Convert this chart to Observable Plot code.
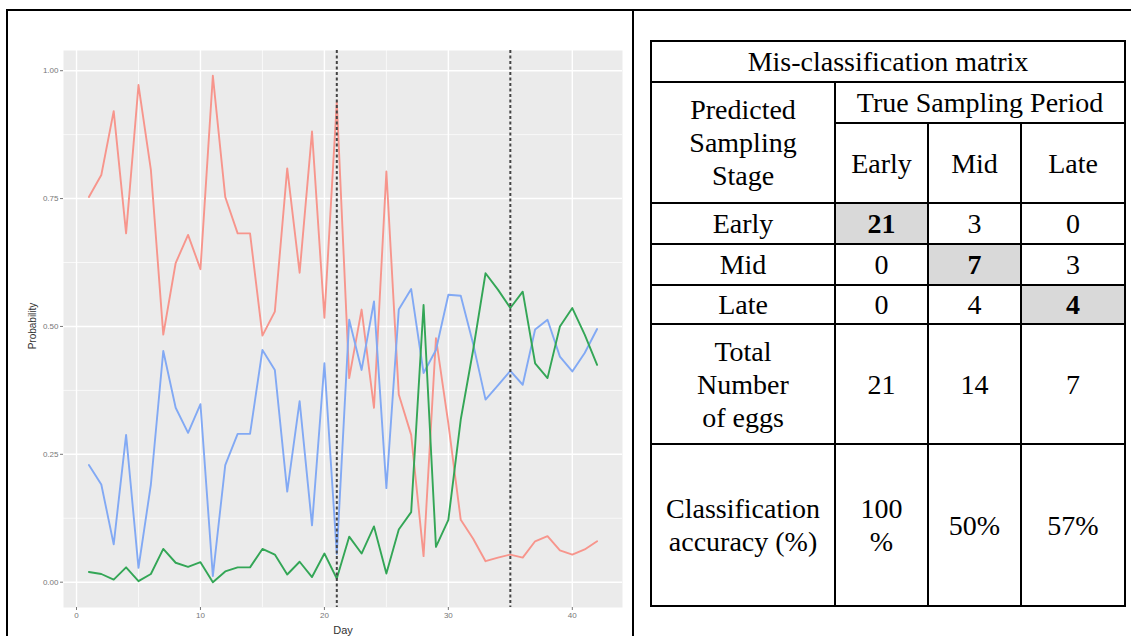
<!DOCTYPE html>
<html>
<head>
<meta charset="utf-8">
<script src="https://cdn.jsdelivr.net/npm/d3@7"></script>
<script src="https://cdn.jsdelivr.net/npm/@observablehq/plot@0.6"></script>
<style>
  html, body { margin: 0; padding: 0; background: #fff; }
  #fig { position: relative; width: 1131px; height: 636px; overflow: hidden; background: #fff; }
  #chart { position: absolute; left: 0; top: 0; }
  .bline { position: absolute; background: #000; }
  .axtitle { position: absolute; font-family: "Liberation Sans", Arial, sans-serif; color: #333; white-space: nowrap; }
  #tbl { position: absolute; left: 650px; top: 40px; width: 474px; height: 565px;
         border-collapse: collapse; table-layout: fixed;
         font-family: "Liberation Serif", "Times New Roman", serif; font-size: 28px; color: #000; }
  #tbl td { border: 2px solid #000; text-align: center; vertical-align: middle; padding: 0;
            line-height: 33px; white-space: pre-line; }
  #tbl td.diag { background: #D9D9D9; font-weight: bold; }
</style>
</head>
<body>
<div id="fig">
  <div id="chart"></div>
  <div class="axtitle" id="ylab" style="left:32px; top:326px; font-size:10px; transform: translate(-50%,-50%) rotate(-90deg);">Probability</div>
  <div class="axtitle" id="xlab" style="left:343px; top:630px; font-size:11px; transform: translate(-50%,-50%);">Day</div>
  <table id="tbl"></table>
  <div class="bline" style="left:7px; top:9px; width:1124px; height:2px;"></div>
  <div class="bline" style="left:6px; top:9px; width:2px; height:627px;"></div>
  <div class="bline" style="left:632px; top:9px; width:2px; height:627px;"></div>
</div>
<script>
// ---------- line chart data ----------
const days  = [1,2,3,4,5,6,7,8,9,10,11,12,13,14,15,16,17,18,19,20,21,22,23,24,25,26,27,28,29,30,31,32,33,34,35,36,37,38,39,40,41,42];
const early = [0.753,0.796,0.921,0.682,0.972,0.806,0.484,0.624,0.679,0.612,0.990,0.753,0.682,0.682,0.482,0.529,0.809,0.605,0.881,0.517,0.939,0.399,0.533,0.341,0.803,0.367,0.288,0.051,0.477,0.310,0.122,0.085,0.041,0.048,0.054,0.048,0.080,0.090,0.062,0.054,0.064,0.080];
const mid   = [0.229,0.191,0.074,0.288,0.028,0.191,0.452,0.341,0.292,0.348,0.012,0.229,0.290,0.290,0.454,0.415,0.177,0.354,0.111,0.428,0.055,0.513,0.415,0.549,0.184,0.533,0.573,0.409,0.454,0.562,0.560,0.466,0.357,0.385,0.413,0.386,0.494,0.513,0.441,0.412,0.448,0.495];
const late  = [0.020,0.016,0.005,0.029,0.002,0.016,0.065,0.038,0.030,0.039,0.000,0.021,0.029,0.029,0.065,0.054,0.015,0.040,0.010,0.056,0.007,0.089,0.056,0.109,0.017,0.103,0.137,0.542,0.069,0.122,0.318,0.454,0.604,0.572,0.536,0.568,0.428,0.399,0.500,0.536,0.484,0.425];
const stageNames  = ["Early", "Mid", "Late"];
const stageColors = ["#F7958C", "#82A9F4", "#33A656"];
const xTicks = [0, 10, 20, 30, 40];
const xMinor = [5, 15, 25, 35];
const yTicks = [0, 0.25, 0.5, 0.75, 1];
const yMinor = [0.125, 0.375, 0.625, 0.875];
const cutoffDays = [21, 35];

// ---------- table data ----------
const tableTitle = "Mis-classification matrix";
const rowHeader = "Predicted\nSampling\nStage";
const colGroupHeader = "True Sampling Period";
const periods = ["Early", "Mid", "Late"];
const matrixEarly = [21, 3, 0];
const matrixMid   = [0, 7, 3];
const matrixLate  = [0, 4, 4];
const totalLabel = "Total\nNumber\nof eggs";
const totals = [21, 14, 7];
const accuracyLabel = "Classification\naccuracy (%)";
const accuracy = ["100\n%", "50%", "57%"];

// build line rows
const series = [early, mid, late];
const rows = [];
series.forEach((vals, s) => vals.forEach((v, i) => rows.push({day: days[i], p: v, stage: stageNames[s]})));

const chart = Plot.plot({
  width: 633,
  height: 636,
  marginLeft: 63,
  marginRight: 11,
  marginTop: 50,
  marginBottom: 29,
  x: {domain: [-1.05, 44.05]},
  y: {domain: [-0.0495, 1.0395]},
  color: {domain: stageNames, range: stageColors},
  style: {background: "transparent", fontFamily: "Liberation Sans, Arial, sans-serif", overflow: "visible"},
  marks: [
    Plot.frame({fill: "#EBEBEB", stroke: null}),
    Plot.ruleX(xMinor, {stroke: "#fff", strokeWidth: 0.7}),
    Plot.ruleY(yMinor, {stroke: "#fff", strokeWidth: 0.7}),
    Plot.ruleX(xTicks, {stroke: "#fff", strokeWidth: 1.4}),
    Plot.ruleY(yTicks, {stroke: "#fff", strokeWidth: 1.4}),
    Plot.axisX({ticks: xTicks, tickSize: 3, tickPadding: 2, fontSize: 8, label: null, color: "#777"}),
    Plot.axisY({ticks: yTicks, tickFormat: d => d.toFixed(2), tickSize: 3, tickPadding: 2, fontSize: 8, label: null, color: "#777"}),
    Plot.lineY(rows, {x: "day", y: "p", z: "stage", stroke: "stage", strokeWidth: 1.9}),
    Plot.ruleX(cutoffDays, {stroke: "#444", strokeWidth: 2, strokeDasharray: "3,2.5"})
  ]
});
document.getElementById("chart").appendChild(chart);

// build table
const tbl = document.getElementById("tbl");
const colW = [184, 93, 93, 104];
const cg = document.createElement("colgroup");
colW.forEach(w => { const c = document.createElement("col"); c.style.width = w + "px"; cg.appendChild(c); });
tbl.appendChild(cg);
function tr(h) { const r = document.createElement("tr"); r.style.height = h + "px"; tbl.appendChild(r); return r; }
function td(r, text, opts = {}) {
  const c = document.createElement("td");
  c.textContent = text;
  if (opts.colspan) c.colSpan = opts.colspan;
  if (opts.rowspan) c.rowSpan = opts.rowspan;
  if (opts.cls) c.className = opts.cls;
  r.appendChild(c);
  return c;
}
let r = tr(41); td(r, tableTitle, {colspan: 4});
r = tr(41); td(r, rowHeader, {rowspan: 2}); td(r, colGroupHeader, {colspan: 3});
r = tr(80); periods.forEach(p => td(r, p));
[matrixEarly, matrixMid, matrixLate].forEach((vals, i) => {
  const rr = tr(i === 2 ? 39 : 41);
  td(rr, periods[i]);
  vals.forEach((v, j) => td(rr, String(v), {cls: i === j ? "diag" : ""}));
});
r = tr(120); td(r, totalLabel); totals.forEach(v => td(r, String(v)));
r = tr(162); td(r, accuracyLabel); accuracy.forEach(v => td(r, v));
</script>
</body>
</html>
